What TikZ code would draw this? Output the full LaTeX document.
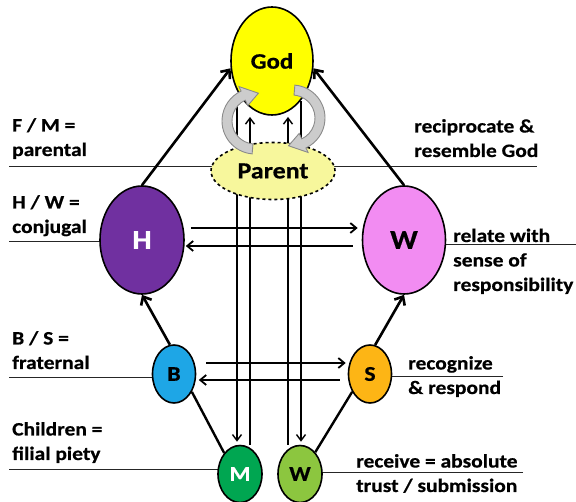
\documentclass[tikz,border=0pt]{standalone}
\usepackage{fontspec}
\setmainfont{Carlito}[FakeStretch=1.13, BoldFeatures={FakeBold=0.6}]
\usetikzlibrary{shapes.geometric,arrows.meta,calc,backgrounds}
\definecolor{godY}{HTML}{FFFF00}
\definecolor{parY}{HTML}{F7F79C}
\definecolor{hP}{HTML}{7030A0}
\definecolor{wP}{HTML}{F28CF2}
\definecolor{bB}{HTML}{1EA6E6}
\definecolor{sO}{HTML}{FDB515}
\definecolor{mG}{HTML}{00A651}
\definecolor{cG}{HTML}{8CC63F}
\definecolor{arG}{HTML}{CCCCCC}
\definecolor{arD}{HTML}{8A8A8A}
\begin{document}
\begin{tikzpicture}[x=1pt,y=-1pt,
  oval/.style={ellipse, draw=black, line width=1.6pt, inner sep=0pt},
  leader/.style={line width=1pt, draw=black!85},
  thickarr/.style={line width=2.6pt, -{Straight Barb[length=7pt,width=12pt]}},
  harr/.style={line width=1.8pt, -{Straight Barb[length=6pt,width=10pt]}},
  varr/.style={line width=1.4pt, -{Straight Barb[length=6pt,width=9pt]}},
  plainline/.style={line width=2.4pt},
  grayarr/.style={fill=arG, draw=arD, line width=0.9pt},
  lab/.style={font=\fontsize{19}{24.5}\selectfont\bfseries, align=left, inner sep=0pt, anchor=base west}]
\useasboundingbox (0,0) rectangle (576,502);

% nodes
\node[oval, fill=godY, minimum width=82pt, minimum height=108pt,
      font=\fontsize{22}{24}\selectfont\bfseries] (God) at (272,61) {God};
\node[oval, fill=parY, dashed, minimum width=124pt, minimum height=57pt,
      font=\fontsize{23}{25}\selectfont\bfseries] (Par) at (273,171) {Parent};
\node[oval, fill=hP, text=white, minimum width=84pt, minimum height=108pt,
      font=\fontsize{27}{29}\selectfont\bfseries] (H) at (142,240) {H};
\node[oval, fill=wP, minimum width=83pt, minimum height=108pt,
      font=\fontsize{27}{29}\selectfont\bfseries] (Wf) at (404,240) {W};
\node[oval, fill=bB, minimum width=43pt, minimum height=58pt,
      font=\fontsize{21}{23}\selectfont\bfseries] (B) at (174,374) {B};
\node[oval, fill=sO, minimum width=43pt, minimum height=58pt,
      font=\fontsize{21}{23}\selectfont\bfseries] (S) at (370,374) {S};
\node[oval, fill=mG, text=white, minimum width=44pt, minimum height=57pt,
      font=\fontsize{21}{23}\selectfont\bfseries] (M) at (240,474) {M};
\node[oval, fill=cG, minimum width=44pt, minimum height=57pt,
      font=\fontsize{21}{23}\selectfont\bfseries] (Wc) at (300,474) {W};

% free ends
\coordinate (gL) at (237,102);
\coordinate (uL) at (250,117);
\coordinate (uR) at (288,117);
\coordinate (gR) at (301,101);
\coordinate (l1) at (9,167);
\coordinate (r1) at (537,167);
\coordinate (l2) at (9,242);
\coordinate (r2) at (576,245);
\coordinate (l3) at (9,378);
\coordinate (r3) at (503,377);
\coordinate (l4) at (9,470);
\coordinate (r4) at (523,473);

\begin{scope}[on background layer]
  \draw[leader] (l1) -- (r1);
  \draw[leader] (l2) -- (l2 -| H);
  \draw[leader] (r2) -- (r2 -| Wf);
  \draw[leader] (l3) -- (l3 -| B);
  \draw[leader] (r3) -- (r3 -| S);
  \draw[leader] (l4) -- (l4 -| M);
  \draw[leader] (r4) -- (r4 -| Wc);
  \draw[varr, shorten >=3pt] (gL) -- (gL |- M.north);
  \draw[varr] (uL |- M.north) -- (uL);
  \draw[varr] (uR |- Wc.north) -- (uR);
  \draw[varr, shorten >=3pt] (gR) -- (gR |- Wc.north);
\end{scope}

% diagonal connectors
\draw[thickarr] (H.north) -- (God.190);
\draw[thickarr] (Wf.north) -- (God.350);
\draw[thickarr] (B.98) -- (H.south);
\draw[thickarr] (S.80) -- (Wf.south);
\draw[plainline] (M.127) -- (B.-45);
\draw[plainline] (Wc.55) -- (S.225);

% horizontal arrows
\draw[harr] ($(H.east)+(6,-12)$) -- ($(Wf.west)+(-4,-12)$);
\draw[harr] ($(Wf.west)+(-9,6)$) -- ($(H.east)+(1,6)$);
\draw[harr] ($(B.east)+(10,-11)$) -- ($(S.west)+(-2,-11)$);
\draw[harr] ($(S.west)+(-8,6)$) -- ($(B.east)+(2.5,6)$);

% grey circular arrows
\coordinate (cl) at (255,121);
\coordinate (cr) at (292,118);
\path[grayarr] ($(cl)+(95:33)$) arc[start angle=95,end angle=245,radius=33]
  -- ($(cl)+(245:38)$) -- ($(cl)+(277:28)$) -- ($(cl)+(245:17)$)
  -- ($(cl)+(245:23)$) arc[start angle=245,end angle=95,radius=23] -- cycle;
\path[grayarr] ($(cr)+(-85:33)$) arc[start angle=-85,end angle=65,radius=33]
  -- ($(cr)+(65:38)$) -- ($(cr)+(97:28)$) -- ($(cr)+(65:17)$)
  -- ($(cr)+(65:23)$) arc[start angle=65,end angle=-85,radius=23] -- cycle;

% labels (anchor = baseline of last line)
\node[lab] (lFM) at (12,156) {F / M =\\parental};
\node[lab] (lHW) at (12,233) {H / W =\\conjugal};
\node[lab] (lBS) at (12,369) {B / S =\\fraternal};
\node[lab] (lCh) at (12,460) {Children =\\filial piety};
\node[lab] (rRG) at (414,157) {reciprocate \&\\resemble God};
\node[lab] (rRel) at (453,291) {relate with\\sense of\\responsibility};
\node[lab] (rRec) at (408,394) {recognize\\\& respond};
\node[lab] (rRcv) at (356,492) {receive = absolute\\trust / submission};
\end{tikzpicture}
\end{document}
